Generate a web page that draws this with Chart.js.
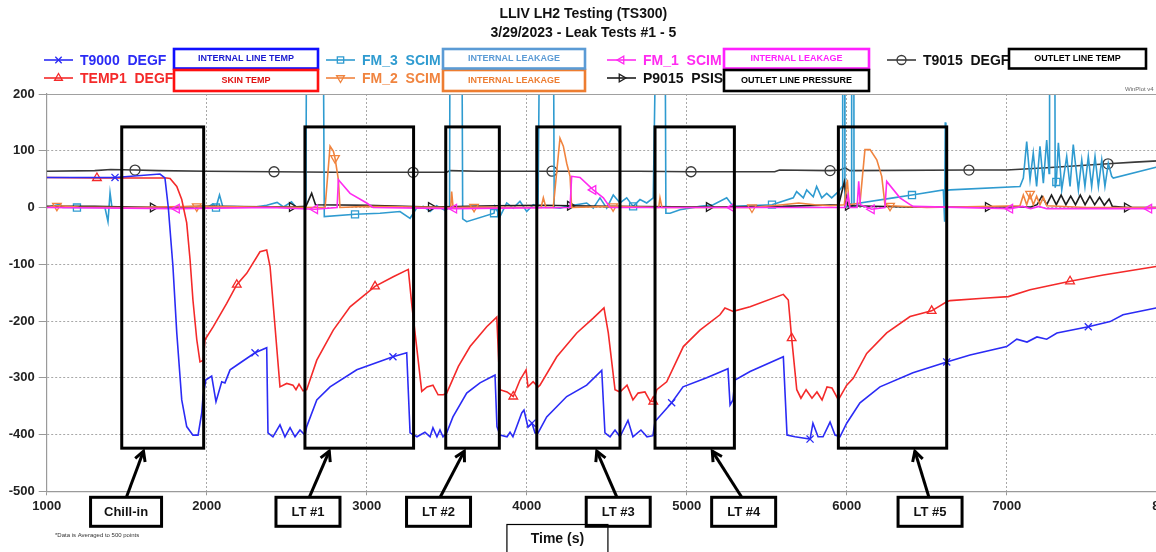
<!DOCTYPE html>
<html>
<head>
<meta charset="utf-8">
<script src="https://cdn.jsdelivr.net/npm/chart.js@4.4.1/dist/chart.umd.min.js"></script>
<style>
  html, body { margin:0; padding:0; background:#fff; overflow:hidden; }
  #wrap { width:1200px; height:552px; }
</style>
</head>
<body>
<div id="wrap"><canvas id="c" width="1200" height="552"></canvas></div>
<script>
// ---------------- DATA ----------------
const titleLines = ['LLIV LH2 Testing (TS300)', '3/29/2023 - Leak Tests #1 - 5'];
const xTicks = [1000, 2000, 3000, 4000, 5000, 6000, 7000, 8000];
const yTicks = [200, 100, 0, -100, -200, -300, -400, -500];

const T9000 = [[1000,53],[1427,53],[1708,59],[1739,52],[1760,0],[1789,-104],[1813,-221],[1844,-339],[1875,-386],[1914,-401],[1946,-401],[1969,-362],[1977,-333],[1994,-304],[2031,-297],[2058,-342],[2094,-307],[2114,-309],[2146,-286],[2208,-274],[2302,-256],[2375,-247],[2383,-397],[2414,-404],[2458,-383],[2489,-404],[2521,-388],[2552,-404],[2583,-392],[2614,-401],[2625,-386],[2688,-339],[2771,-316],[2938,-286],[3164,-263],[3250,-256],[3271,-397],[3314,-404],[3364,-396],[3396,-404],[3414,-388],[3439,-404],[3458,-392],[3477,-404],[3500,-397],[3539,-369],[3625,-327],[3708,-309],[3802,-295],[3814,-386],[3833,-401],[3877,-404],[3896,-396],[3914,-404],[3969,-362],[3983,-357],[4008,-387],[4033,-380],[4052,-397],[4071,-397],[4125,-369],[4250,-333],[4375,-313],[4469,-287],[4489,-397],[4521,-404],[4552,-392],[4583,-404],[4633,-375],[4664,-404],[4714,-392],[4752,-404],[4789,-402],[4802,-377],[4906,-344],[4977,-316],[5125,-300],[5258,-284],[5271,-348],[5289,-339],[5302,-304],[5396,-289],[5604,-263],[5627,-401],[5677,-404],[5727,-406],[5771,-408],[5789,-380],[5821,-404],[5852,-404],[5896,-378],[5927,-401],[5958,-404],[6000,-380],[6083,-344],[6208,-316],[6414,-291],[6625,-272],[6771,-260],[7000,-245],[7063,-232],[7127,-237],[7189,-228],[7250,-232],[7314,-221],[7510,-210],[7646,-201],[7727,-189],[7933,-177],[8000,-175]];
const T9000Marks = [1427,2302,3164,4033,4906,5771,6625,7510];

const TEMP1 = [[1000,53],[1314,52],[1750,52],[1771,51],[1813,37],[1844,14],[1875,-27],[1896,-92],[1914,-163],[1938,-233],[1958,-272],[1979,-269],[1989,-233],[2041,-210],[2125,-169],[2188,-136],[2250,-116],[2333,-78],[2375,-75],[2396,-104],[2458,-316],[2500,-310],[2539,-313],[2558,-321],[2577,-311],[2602,-323],[2625,-321],[2688,-269],[2791,-216],[2896,-175],[3052,-139],[3166,-122],[3260,-109],[3281,-169],[3344,-324],[3377,-316],[3414,-313],[3446,-330],[3479,-330],[3500,-327],[3573,-280],[3646,-245],[3750,-210],[3813,-193],[3833,-321],[3877,-325],[3916,-333],[3958,-304],[3996,-286],[4008,-316],[4040,-307],[4071,-316],[4083,-313],[4188,-263],[4313,-221],[4416,-195],[4483,-177],[4510,-221],[4552,-321],[4583,-325],[4627,-313],[4664,-339],[4696,-327],[4739,-325],[4771,-341],[4791,-342],[4813,-321],[4875,-307],[4979,-245],[5083,-216],[5208,-189],[5239,-177],[5291,-183],[5396,-175],[5604,-153],[5635,-163],[5656,-230],[5688,-321],[5714,-336],[5746,-321],[5783,-336],[5814,-325],[5846,-339],[5877,-316],[5908,-318],[5948,-339],[6000,-313],[6041,-301],[6125,-257],[6250,-221],[6396,-192],[6531,-182],[6625,-166],[6646,-164],[6854,-160],[7010,-157],[7146,-145],[7396,-130],[7604,-119],[7933,-104],[8000,-101]];
const TEMP1Marks = [1314,2188,3052,3916,4791,5656,6531,7396];

const FM_3 = [[1000,0],[1083,6],[1100,0],[1189,0],[1364,0],[1383,-25],[1396,26],[1408,0],[1600,1],[1900,0],[1958,2],[2000,0],[2040,6],[2058,0],[2080,22],[2100,2],[2300,1],[2375,4],[2440,9],[2480,1],[2530,10],[2560,0],[2620,2],[2625,400],[2727,400],[2735,-16],[2927,-12],[3083,-10],[3208,-7],[3271,-19],[3312,-1],[3354,2],[3396,-7],[3437,3],[3489,-5],[3518,0],[3521,400],[3594,400],[3600,-20],[3625,-25],[3796,-10],[3802,2],[3833,-16],[3875,8],[3916,-1],[3958,11],[4000,-7],[4041,5],[4071,2],[4083,400],[4166,400],[4172,0],[4208,-1],[4250,2],[4375,8],[4416,-1],[4458,17],[4500,-1],[4541,22],[4583,8],[4625,17],[4665,2],[4708,14],[4750,8],[4791,17],[4812,400],[4864,400],[4870,-10],[4896,-10],[4958,-4],[5083,2],[5166,5],[5250,17],[5291,2],[5375,3],[5533,5],[5666,17],[5687,28],[5729,17],[5750,31],[5791,19],[5812,37],[5844,17],[5875,25],[5906,17],[5948,28],[5972,37],[5975,400],[5987,400],[5989,2],[6028,2],[6031,400],[6044,400],[6046,2],[6083,8],[6291,17],[6408,22],[6604,31],[6612,-25],[6616,150],[6620,30],[6646,31],[7083,37],[7104,52],[7125,116],[7146,49],[7166,96],[7187,37],[7208,108],[7229,43],[7250,119],[7265,60],[7268,400],[7300,400],[7303,35],[7310,45],[7323,114],[7344,31],[7375,90],[7396,37],[7416,111],[7448,31],[7469,84],[7489,37],[7510,90],[7531,37],[7552,90],[7573,37],[7594,84],[7614,37],[7635,78],[7656,55],[7666,52],[7933,71],[8000,73]];
const FM_3Marks = [1189,2058,2927,3796,4665,5533,6408,7310];

const FM_2 = [[1000,0],[1064,3],[1200,1],[1500,0],[1938,2],[2300,1],[2740,0],[2771,108],[2792,99],[2802,87],[2823,49],[2833,0],[3000,2],[3525,0],[3531,28],[3540,0],[3671,1],[4090,0],[4104,17],[4120,0],[4166,0],[4208,122],[4229,108],[4250,78],[4271,55],[4281,0],[4540,2],[4825,0],[4833,17],[4845,0],[5408,0],[5600,5],[5700,8],[5800,5],[5900,3],[5985,5],[6004,49],[6015,5],[6083,8],[6114,102],[6146,102],[6188,84],[6219,55],[6239,5],[6271,3],[6500,0],[7083,3],[7104,22],[7125,5],[7146,24],[7166,5],[7187,20],[7208,5],[7229,18],[7250,3],[7500,0],[8000,0]];
const FM_2Marks = [1064,1938,2802,3671,4540,5408,6271,7146];

const FM_1 = [[1000,0],[1813,-2],[2400,0],[2677,-3],[2815,0],[2823,49],[2850,40],[2896,25],[3000,8],[3040,0],[3546,-2],[4271,0],[4281,55],[4333,53],[4416,31],[4479,17],[4521,0],[5283,0],[5990,0],[6008,22],[6020,0],[6065,0],[6075,46],[6085,5],[6156,-3],[6239,0],[6250,46],[6333,17],[6396,5],[6416,2],[7021,-2],[7100,2],[7150,-2],[7200,2],[7250,-2],[7890,-2],[8000,0]];
const FM_1Marks = [1813,2677,3546,4416,5283,6156,7021,7890];

const P9015 = [[1000,2],[1300,2],[1664,0],[2000,2],[2533,1],[2620,2],[2656,25],[2680,5],[3000,4],[3402,1],[3800,3],[4100,4],[4271,3],[4500,2],[5139,1],[5600,2],[5950,5],[5985,45],[6000,10],[6008,3],[6400,1],[6883,1],[7150,1],[7190,5],[7220,20],[7250,5],[7280,22],[7310,5],[7340,22],[7370,5],[7400,20],[7430,5],[7460,22],[7490,5],[7520,20],[7550,5],[7580,18],[7610,4],[7640,15],[7660,2],[7752,0],[8000,0]];
const P9015Marks = [1664,2533,3402,4271,5139,6008,6883,7752];

const T9015 = [[1000,64],[1300,65],[1400,67],[1552,66],[1700,65],[2000,64],[2421,63],[2800,62],[3290,62],[3500,62],[3520,65],[3700,64],[4158,64],[4700,64],[5027,63],[5550,63],[5580,66],[5896,65],[5960,66],[5990,70],[6020,65],[6764,66],[7000,66],[7250,70],[7633,77],[7800,80],[8000,83]];
const T9015Marks = [1552,2421,3290,4158,5027,5896,6764,7633];

// Annotation boxes (leak tests), in data units
const boxNames  = ['Chill-in', 'LT #1', 'LT #2', 'LT #3', 'LT #4', 'LT #5'];
const boxStart  = [1469, 2614, 3494, 4063, 4802, 5948];
const boxEnd    = [1981, 3293, 3829, 4583, 5298, 6625];
const boxTop = 142, boxBottom = -424;
const labelCenter = [1496, 2633, 3449, 4572, 5356, 6521];
const arrowFrom   = [1498, 2641, 3459, 4564, 5344, 6514];
const arrowTo     = [1605, 2766, 3610, 4438, 5160, 6426];
const timeBoxCenter = 4192;

// ---------------- STYLE ----------------
const FONT = 'Arial, "Liberation Sans", sans-serif';
const series = [
  {label:'T9000  DEGF', data:T9000, marks:T9000Marks, color:'#2b2bf5', style:'crossRot', rot:0, note:'INTERNAL LINE TEMP', noteColor:'#1010ff', noteText:'#1a1ad0'},
  {label:'TEMP1  DEGF', data:TEMP1, marks:TEMP1Marks, color:'#f42a2a', style:'triangle', rot:0, note:'SKIN TEMP', noteColor:'#ff1010', noteText:'#e01010'},
  {label:'FM_1  SCIM', data:FM_1, marks:FM_1Marks, color:'#ff2bf0', style:'triangle', rot:-90, note:'INTERNAL LEAKAGE', noteColor:'#ff20ff', noteText:'#ff20ff'},
  {label:'FM_2  SCIM', data:FM_2, marks:FM_2Marks, color:'#f0843f', style:'triangle', rot:180, note:'INTERNAL LEAKAGE', noteColor:'#ed7d31', noteText:'#ed7d31'},
  {label:'P9015  PSIS', data:P9015, marks:P9015Marks, color:'#1e1e1e', style:'triangle', rot:90, note:'OUTLET LINE PRESSURE', noteColor:'#000', noteText:'#000'},
  {label:'FM_3  SCIM', data:FM_3, marks:FM_3Marks, color:'#2f9bd0', style:'rect', rot:0, note:'INTERNAL LEAKAGE', noteColor:'#5b9bd5', noteText:'#5b9bd5'},
  {label:'T9015  DEGF', data:T9015, marks:T9015Marks, color:'#3a3a3a', style:'circle', rot:0, note:'OUTLET LINE TEMP', noteColor:'#000', noteText:'#000'}
];

// legend layout (pixel positions of the header legend)
const legendLayout = {
  'T9000  DEGF': {x:44, row:0, box:[174,318]},
  'TEMP1  DEGF': {x:44, row:1, box:[174,318]},
  'FM_3  SCIM':  {x:326, row:0, box:[443,585]},
  'FM_2  SCIM':  {x:326, row:1, box:[443,585]},
  'FM_1  SCIM':  {x:607, row:0, box:[724,869]},
  'P9015  PSIS': {x:607, row:1, box:[724,869]},
  'T9015  DEGF': {x:887, row:0, box:[1009,1146]}
};

const datasets = series.map(s => ({
  label: s.label,
  data: s.data.map(p => ({x:p[0], y:p[1]})),
  borderColor: s.color,
  backgroundColor: 'rgba(0,0,0,0)',
  borderWidth: 1.6,
  tension: 0,
  pointStyle: s.style,
  pointRotation: s.rot,
  pointBorderColor: s.color,
  pointBackgroundColor: 'rgba(255,255,255,0)',
  pointBorderWidth: 1.3,
  pointRadius: ctx => (ctx.raw && s.marks.includes(ctx.raw.x)) ? (s.style === 'rect' ? 5 : 5) : 0,
  pointHoverRadius: 0
}));

const decor = {
  id: 'decor',
  afterDatasetsDraw(chart) {
    const ctx = chart.ctx, xs = chart.scales.x, ys = chart.scales.y, a = chart.chartArea;
    ctx.save();
    // top border of plot
    ctx.strokeStyle = '#a0a0a0'; ctx.lineWidth = 1.2;
    ctx.beginPath(); ctx.moveTo(a.left, a.top + 0.5); ctx.lineTo(a.right, a.top + 0.5); ctx.stroke();

    // annotation boxes
    ctx.strokeStyle = '#000'; ctx.lineWidth = 3;
    const yT = ys.getPixelForValue(boxTop), yB = ys.getPixelForValue(boxBottom);
    for (let i = 0; i < boxNames.length; i++) {
      const x0 = xs.getPixelForValue(boxStart[i]), x1 = xs.getPixelForValue(boxEnd[i]);
      ctx.strokeRect(x0, yT, x1 - x0, yB - yT);
    }
    // label boxes and arrows
    const lbTop = a.bottom + 6, lbH = 29;
    ctx.font = 'bold 13px ' + FONT; ctx.textAlign = 'center'; ctx.textBaseline = 'middle'; ctx.fillStyle = '#111';
    for (let i = 0; i < boxNames.length; i++) {
      const cx = xs.getPixelForValue(labelCenter[i]);
      const w = i === 0 ? 71 : 64;
      ctx.fillStyle = '#fff';
      ctx.fillRect(cx - w/2, lbTop, w, lbH);
      ctx.strokeRect(cx - w/2, lbTop, w, lbH);
      ctx.fillStyle = '#111';
      ctx.fillText(boxNames[i], cx, lbTop + lbH/2 + 1);
      // arrow
      const ax0 = xs.getPixelForValue(arrowFrom[i]), ay0 = lbTop;
      const ax1 = xs.getPixelForValue(arrowTo[i]), ay1 = yB + 3;
      ctx.beginPath(); ctx.moveTo(ax0, ay0); ctx.lineTo(ax1, ay1); ctx.stroke();
      const ang = Math.atan2(ay1 - ay0, ax1 - ax0), L = 11, sp = 0.5;
      ctx.beginPath();
      ctx.moveTo(ax1 - L*Math.cos(ang - sp), ay1 - L*Math.sin(ang - sp));
      ctx.lineTo(ax1, ay1);
      ctx.lineTo(ax1 - L*Math.cos(ang + sp), ay1 - L*Math.sin(ang + sp));
      ctx.stroke();
    }
    // Time (s) box
    const tc = xs.getPixelForValue(timeBoxCenter);
    ctx.lineWidth = 1.2;
    ctx.strokeRect(tc - 50.5, 524.5, 101, 40);
    ctx.font = 'bold 14px ' + FONT; ctx.fillStyle = '#111';
    ctx.fillText('Time (s)', tc, 539);
    // footnote
    ctx.font = '6px ' + FONT; ctx.fillStyle = '#333'; ctx.textAlign = 'left';
    ctx.fillText('*Data is Averaged to 500 points', 55, 535);
    // WinPlot mark
    ctx.fillStyle = '#666'; ctx.textAlign = 'left';
    ctx.fillText('WinPlot v4', 1125, 89);

    // header legend
    const rowY = [60, 78];
    for (const s of series) {
      const L = legendLayout[s.label];
      const y = rowY[L.row];
      ctx.strokeStyle = s.color; ctx.lineWidth = 1.6;
      ctx.beginPath(); ctx.moveTo(L.x, y); ctx.lineTo(L.x + 29, y); ctx.stroke();
      ctx.fillStyle = 'rgba(255,255,255,0)';
      ctx.lineWidth = 1.3;
      Chart.helpers.drawPoint(ctx, {pointStyle: s.style, rotation: s.rot, radius: 4.5, borderWidth: 1.3}, L.x + 14.5, y);
      ctx.font = 'bold 14px ' + FONT; ctx.fillStyle = s.color === '#3a3a3a' || s.color === '#1e1e1e' ? '#111' : s.color;
      ctx.textAlign = 'left'; ctx.textBaseline = 'middle';
      ctx.fillText(s.label, L.x + 36, y + 1);
      // note box
      const bx0 = L.box[0], bx1 = L.box[1];
      const by0 = L.row === 0 ? 49 : 70, by1 = L.row === 0 ? 68.5 : 91;
      ctx.strokeStyle = s.noteColor; ctx.lineWidth = 2.6;
      ctx.strokeRect(bx0, by0, bx1 - bx0, by1 - by0);
      ctx.font = 'bold 9px ' + FONT; ctx.fillStyle = s.noteText; ctx.textAlign = 'center';
      ctx.fillText(s.note, (bx0 + bx1)/2, (by0 + by1)/2);
    }
    ctx.restore();
  }
};

new Chart(document.getElementById('c'), {
  type: 'line',
  data: { datasets },
  options: {
    responsive: false,
    animation: false,
    events: [],
    layout: { padding: { left: 0, right: 33.3, top: 0, bottom: 35.7 } },
    plugins: {
      legend: { display: false },
      tooltip: { enabled: false },
      title: {
        display: true, text: titleLines, color: '#111',
        font: { family: FONT, size: 14, weight: 'bold', lineHeight: '19px' },
        padding: { top: 4.5, bottom: 51.5 }
      }
    },
    scales: {
      x: {
        type: 'linear', min: 1000, max: 8000,
        afterBuildTicks: s => { s.ticks = xTicks.map(v => ({value: v})); },
        afterFit: s => { s.height = 25; },
        ticks: { font: { family: FONT, size: 13, weight: 'bold' }, color: '#222', padding: 3, maxRotation: 0, autoSkip: false, callback: v => String(v) },
        grid: { color: '#a8a8a8', lineWidth: 1, drawTicks: true, tickLength: 4, tickColor: '#999', tickBorderDash: [] },
        border: { display: true, color: '#9a9a9a', width: 1.2, dash: [2, 2] }
      },
      y: {
        min: -500, max: 200,
        afterBuildTicks: s => { s.ticks = yTicks.map(v => ({value: v})); },
        afterFit: s => { s.width = 46.7; },
        ticks: { font: { family: FONT, size: 13, weight: 'bold' }, color: '#222', padding: 4, callback: v => String(v) },
        grid: { color: '#a8a8a8', lineWidth: 1, drawTicks: true, tickLength: 8, tickColor: '#999', tickBorderDash: [] },
        border: { display: true, color: '#9a9a9a', width: 1.2, dash: [2, 2] }
      }
    }
  },
  plugins: [decor]
});
</script>
</body>
</html>
